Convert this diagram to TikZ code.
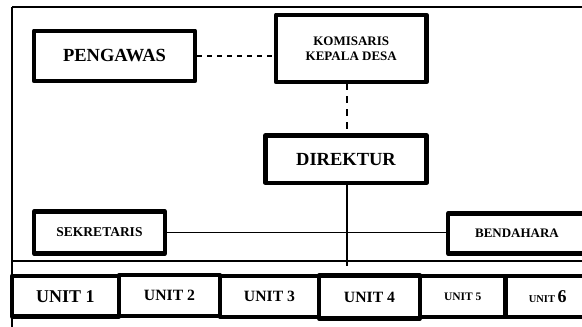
\documentclass[tikz,border=0pt]{standalone}
\usepackage{fontspec}
\setmainfont{Liberation Serif}
\begin{document}
\begin{tikzpicture}[x=1pt,y=-1pt,
  box/.style={draw,line width=4.2pt,line join=round,inner sep=0pt,font=\bfseries},
  conn/.style={line width=1.2pt},
  dashh/.style={conn,dash pattern=on 5pt off 5pt},
  dashv/.style={conn,dash pattern=on 7pt off 6pt},
  frame/.style={line width=1.3pt}]
\useasboundingbox (0,0) rectangle (582,327);
% frame
\coordinate (tl) at (12,7);
\coordinate (tr) at (600,7);
\coordinate (bl) at (12,330);
\coordinate (ml) at (12,261);
\coordinate (mr) at (600,261);
\draw[frame] (bl) -- (tl);
\draw[line width=1.8pt] (tl) -- (tr);
\draw[frame] (ml) -- (mr);
% boxes
\node[box,minimum width=161pt,minimum height=50.5pt,font=\bfseries\fontsize{18.5}{20}\selectfont] (P) at (114.5,56) {PENGAWAS};
\node[box,minimum width=150.5pt,minimum height=67.5pt,align=center,font=\bfseries\fontsize{13}{15}\selectfont] (K) at (351.25,48.5) {KOMISARIS\\KEPALA DESA};
\node[box,minimum width=161pt,minimum height=47.5pt,font=\bfseries\fontsize{18.5}{20}\selectfont] (D) at (346,159.25) {DIREKTUR};
\node[box,minimum width=131pt,minimum height=42pt,font=\bfseries\fontsize{13.5}{15}\selectfont] (S) at (99.5,232.5) {SEKRETARIS};
\node[box,minimum width=138pt,minimum height=40pt,font=\bfseries\fontsize{13}{15}\selectfont] (B) at (517,233.5) {BENDAHARA};
% units
\node[box,minimum width=107pt,minimum height=40.5pt,font=\bfseries\fontsize{18}{20}\selectfont] (U1) at (65.5,296.25) {UNIT 1};
\node[box,minimum width=101pt,minimum height=40.5pt,font=\bfseries\fontsize{15.7}{18}\selectfont] (U2) at (169.5,295.5) {UNIT 2};
\node[box,minimum width=99pt,minimum height=40.5pt,font=\bfseries\fontsize{15.7}{18}\selectfont] (U3) at (269.5,296.5) {UNIT 3};
\node[box,minimum width=101pt,minimum height=43pt,font=\bfseries\fontsize{15.7}{18}\selectfont] (U4) at (369.5,297) {UNIT 4};
\node[box,minimum width=85.5pt,minimum height=40.5pt,font=\bfseries\fontsize{11.5}{13}\selectfont] (U5) at (462.75,296.5) {UNIT 5};
\node[box,minimum width=84.5pt,minimum height=40.5pt,font=\bfseries\fontsize{10.5}{13}\selectfont] (U6) at (547.75,296.5) {UNIT {\fontsize{18}{20}\selectfont 6}};
% connectors
\draw[dashh] (P.east) -- (P.east -| K.west);
\coordinate (kd) at (347,83);
\coordinate (dn) at (347,133);
\draw[dashv] (kd) -- (dn);
\coordinate (dend) at (347,266);
\draw[conn] (D.south -| dend) -- (dend);
\draw[conn] (S.east) -- (S.east -| B.west);
\end{tikzpicture}
\end{document}
